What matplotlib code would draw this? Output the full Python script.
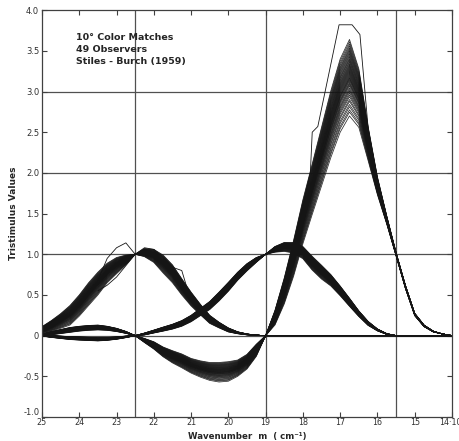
import numpy as np
import matplotlib
matplotlib.use("Agg")
import matplotlib.pyplot as plt

# wavenumber grid, 25 -> 14 (x1000 cm^-1), steps of 0.25
m = np.linspace(25, 14, 45)

# mean curves and half-width of the 49-observer bundle
r_mean = [0.01, 0.03, 0.05, 0.07, 0.085, 0.095, 0.10, 0.09, 0.07, 0.04, 0.0,
          -0.06, -0.12, -0.20, -0.26, -0.31, -0.37, -0.41, -0.44, -0.45, -0.44, -0.40, -0.32, -0.18, 0.0,
          0.22, 0.55, 0.95, 1.40, 1.80, 2.20, 2.60, 2.95, 3.17, 2.92, 2.36, 1.84, 1.42, 1.0,
          0.60, 0.26, 0.12, 0.05, 0.02, 0.0]
r_spread = [0.01, 0.02, 0.025, 0.03, 0.03, 0.03, 0.03, 0.025, 0.02, 0.012, 0.0,
            0.025, 0.045, 0.06, 0.075, 0.085, 0.09, 0.10, 0.11, 0.12, 0.12, 0.10, 0.09, 0.075, 0.0,
            0.09, 0.16, 0.22, 0.27, 0.31, 0.36, 0.41, 0.45, 0.47, 0.36, 0.21, 0.11, 0.05, 0.02,
            0.02, 0.015, 0.01, 0.005, 0.0, 0.0]

g_mean = [0.0, -0.01, -0.02, -0.03, -0.035, -0.04, -0.045, -0.04, -0.03, -0.015, 0.0,
          0.02, 0.05, 0.08, 0.11, 0.15, 0.21, 0.29, 0.37, 0.48, 0.60, 0.73, 0.84, 0.93, 1.0,
          1.06, 1.09, 1.08, 1.02, 0.89, 0.78, 0.68, 0.55, 0.41, 0.27, 0.15, 0.07, 0.02, 0.0,
          -0.005, -0.005, -0.003, 0.0, 0.0, 0.0]
g_spread = [0.005, 0.012, 0.015, 0.018, 0.02, 0.02, 0.02, 0.018, 0.015, 0.01, 0.0,
            0.012, 0.018, 0.025, 0.03, 0.035, 0.04, 0.045, 0.05, 0.055, 0.055, 0.05, 0.045, 0.03, 0.0,
            0.035, 0.055, 0.065, 0.075, 0.085, 0.085, 0.07, 0.06, 0.05, 0.035, 0.025, 0.012, 0.005, 0.0,
            0.003, 0.003, 0.002, 0.0, 0.0, 0.0]

b_mean = [0.07, 0.12, 0.18, 0.25, 0.37, 0.51, 0.64, 0.77, 0.86, 0.93, 1.0,
          1.02, 0.98, 0.88, 0.76, 0.60, 0.45, 0.32, 0.20, 0.13, 0.07, 0.035, 0.015, 0.005, 0.0,
          0, 0, 0, 0, 0, 0, 0, 0, 0, 0, 0, 0, 0, 0, 0, 0, 0, 0, 0, 0]
b_spread = [0.04, 0.065, 0.09, 0.12, 0.13, 0.14, 0.14, 0.12, 0.10, 0.06, 0.0,
            0.05, 0.08, 0.11, 0.11, 0.10, 0.085, 0.065, 0.05, 0.035, 0.025, 0.012, 0.006, 0.0, 0.0,
            0, 0, 0, 0, 0, 0, 0, 0, 0, 0, 0, 0, 0, 0, 0, 0, 0, 0, 0, 0]

# where each observer sits inside the bundle (-1 low edge, +1 high edge)
observer_w = [-1.0, -0.9, -0.84, -0.76, -0.7, -0.62, -0.57, -0.5, -0.45, -0.4,
              -0.35, -0.31, -0.27, -0.22, -0.18, -0.15, -0.12, -0.08, -0.05, -0.02,
              0.0, 0.03, 0.06, 0.09, 0.12, 0.15, 0.18, 0.21, 0.24, 0.27,
              0.3, 0.33, 0.36, 0.4, 0.43, 0.47, 0.5, 0.54, 0.58, 0.62,
              0.66, 0.7, 0.74, 0.78, 0.83, 0.88, 0.94, 1.0]

# odd observers that stick out of the bundles
red_odd_m = [18.5, 18.25, 18.0, 17.8, 17.75, 17.6, 17.03, 16.68, 16.47, 16.25, 16.0, 15.75, 15.5]
red_odd = [0.65, 1.1, 1.6, 2.0, 2.5, 2.57, 3.82, 3.82, 3.70, 2.55, 1.9, 1.45, 1.0]
blue_hi_m = [23.5, 23.25, 23.0, 22.75, 22.5]
blue_hi = [0.68, 0.95, 1.08, 1.14, 1.0]
blue_lo_m = [23.5, 23.25, 23.0, 22.75, 22.5]
blue_lo = [0.55, 0.62, 0.72, 0.86, 1.0]
blue_side_m = [22.5, 22.25, 22.0, 21.75, 21.5, 21.25, 21.0, 20.75]
blue_side = [1.0, 1.08, 1.06, 0.96, 0.84, 0.8, 0.42, 0.3]

xticks = [25, 24, 23, 22, 21, 20, 19, 18, 17, 16, 15, 14]
xlabels = ["25", "24", "23", "22", "21", "20", "19", "18", "17", "16", "15", "14·10³"]
yticks = [-1.0, -0.5, 0, 0.5, 1.0, 1.5, 2.0, 2.5, 3.0, 3.5, 4.0]
ylabels = ["-1.0", "-0.5", "0", "0.5", "1.0", "1.5", "2.0", "2.5", "3.0", "3.5", "4.0"]

fig = plt.figure(figsize=(4.6, 4.41), dpi=100)
ax = fig.add_axes([0.0913, 0.0544, 0.8913, 0.9226])

grid_c = "#505050"
for xv in [22.5, 19, 15.5]:
    ax.axvline(xv, color=grid_c, lw=0.9, zorder=1)
for yv in [0, 1, 2, 3]:
    ax.axhline(yv, color=grid_c, lw=0.9, zorder=1)

line_c = "#151515"
for mean, spr in [(r_mean, r_spread), (g_mean, g_spread), (b_mean, b_spread)]:
    mean = np.array(mean)
    spr = np.array(spr)
    for w in observer_w:
        ax.plot(m, mean + w * spr, color=line_c, lw=0.55, alpha=0.9, zorder=2)

for xs, ys in [(red_odd_m, red_odd), (blue_hi_m, blue_hi), (blue_lo_m, blue_lo), (blue_side_m, blue_side)]:
    ax.plot(xs, ys, color=line_c, lw=0.6, zorder=2)

ax.set_xlim(25, 14)
ax.set_ylim(-1, 4)
ax.set_xticks(xticks)
ax.set_xticklabels(xlabels)
ax.set_yticks(yticks)
ax.set_yticklabels(ylabels)
ax.tick_params(direction="in", length=3.5, width=0.8, color="#404040",
               labelsize=6, labelcolor="#303030", pad=2,
               top=True, right=True)
ax.tick_params(axis="x", pad=1, labelsize=5.8)
# bottom y label sits just above the corner, as in the original
ax.get_yticklabels()[0].set_verticalalignment("bottom")
for sp in ax.spines.values():
    sp.set_color("#404040")
    sp.set_linewidth(0.9)

# x label placed by hand so it stays inside the bottom edge
fig.text(0.537, 0.001, "Wavenumber  m  ( cm⁻¹)", fontsize=6.2, fontweight="bold",
         color="#252525", ha="center", va="bottom")
ax.set_ylabel("Tristimulus Values", fontsize=6.5, fontweight="bold",
              color="#252525", labelpad=4)

ax.text(24.1, 3.72, "10° Color Matches\n49 Observers\nStiles - Burch (1959)",
        fontsize=6.8, fontweight="bold", color="#252525", va="top", ha="left",
        linespacing=1.45)

fig.savefig("out.png", dpi=100)
